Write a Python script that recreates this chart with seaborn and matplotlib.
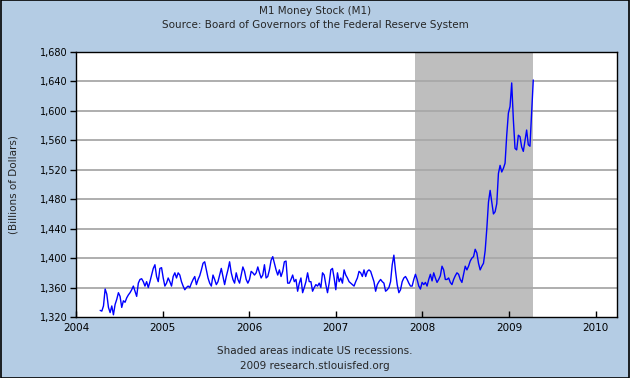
import numpy as np
import pandas as pd
import matplotlib
matplotlib.use('Agg')
import matplotlib.pyplot as plt
import matplotlib.ticker as mticker
import seaborn as sns

# weekly M1 (billions of dollars), starting mid April 2004
m1_2004_05 = [1329, 1328, 1335, 1358, 1351, 1333, 1326, 1335, 1323, 1337,
              1344, 1353, 1348, 1333, 1342, 1340, 1346, 1350, 1353, 1357,
              1362, 1355, 1348, 1366, 1371, 1372, 1368, 1362, 1368, 1360,
              1368, 1377, 1386, 1391, 1375, 1368, 1386, 1387, 1373, 1362,
              1366, 1373, 1368, 1362, 1375, 1380, 1373, 1380, 1377, 1368,
              1362, 1357, 1360, 1362, 1360, 1366, 1371, 1375, 1364, 1371,
              1376]
m1_2005_06 = [1384, 1393, 1395, 1384, 1373, 1366, 1362, 1377, 1371, 1364,
              1368, 1377, 1386, 1375, 1364, 1375, 1384, 1395, 1380, 1371,
              1366, 1380, 1371, 1366, 1377, 1388, 1382, 1371, 1366, 1371,
              1382, 1380, 1377, 1380, 1388, 1380, 1373, 1377, 1391, 1373,
              1375, 1384, 1397, 1402, 1393, 1384, 1377, 1384, 1375, 1382,
              1395, 1396, 1366, 1366, 1371, 1377, 1368, 1371, 1355, 1366,
              1373, 1353, 1360, 1368, 1380, 1368]
m1_2006_07 = [1368, 1355, 1360, 1364, 1362, 1366, 1360, 1380, 1377, 1364,
              1353, 1366, 1384, 1386, 1373, 1357, 1380, 1368, 1373, 1366,
              1384, 1377, 1373, 1368, 1366, 1364, 1362, 1368, 1373, 1382,
              1380, 1375, 1384, 1375, 1382, 1384, 1382, 1375, 1368, 1355,
              1364, 1368, 1371, 1368, 1366, 1355, 1357, 1360, 1368, 1391,
              1404, 1382, 1364, 1353, 1357, 1368, 1373, 1375, 1371, 1366,
              1362]
m1_2007_08 = [1362, 1371, 1378, 1371, 1362, 1358, 1367, 1364, 1367, 1362,
              1371, 1378, 1369, 1380, 1373, 1367, 1371, 1376, 1389, 1384,
              1371, 1371, 1373, 1367, 1364, 1371, 1376, 1380, 1378, 1371,
              1367, 1378, 1389, 1384, 1389, 1396, 1400, 1402, 1412, 1407,
              1393, 1384, 1389, 1393]
m1_2008_09 = [1410, 1440, 1476, 1492, 1476, 1460, 1463, 1474, 1515, 1526,
              1517, 1522, 1529, 1567, 1597, 1606, 1638, 1588, 1549, 1547,
              1567, 1565, 1551, 1545, 1560, 1574, 1554, 1552, 1597, 1642]

values = m1_2004_05 + m1_2005_06 + m1_2006_07 + m1_2007_08 + m1_2008_09
dates = pd.date_range('2004-04-12', periods=len(values), freq='7D')
df = pd.DataFrame({'date': dates, 'm1': values})

recession_start = '2007-12-01'
recession_end = '2009-04-10'

y_ticks = list(range(1320, 1681, 40))
x_years = list(range(2004, 2011))

bg = '#B4CCE4'

sns.set_theme(style='white')
plt.rcParams['font.family'] = ['DejaVu Sans']

fig = plt.figure(figsize=(6.3, 3.78), dpi=100, facecolor=bg)
ax = fig.add_axes([0.1206, 0.1614, 0.8587, 0.701])
ax.set_facecolor('white')

ax.axvspan(pd.Timestamp(recession_start), pd.Timestamp(recession_end),
           color='#BEBEBE', lw=0, zorder=0)
for v in y_ticks[1:]:
    ax.axhline(v, color='#A8A8A8', lw=1.3, zorder=1)

sns.lineplot(data=df, x='date', y='m1', ax=ax, color='#0000FF', lw=1.0, zorder=3)

ax.set_xlim(pd.Timestamp('2004-01-01'), pd.Timestamp('2010-04-01'))
ax.set_ylim(1320, 1680)
ax.set_yticks(y_ticks)
ax.yaxis.set_major_formatter(mticker.FuncFormatter(lambda v, p: f'{int(v):,}'))
ax.set_xticks([pd.Timestamp(f'{y}-01-01') for y in x_years])
ax.set_xticklabels([str(y) for y in x_years])

ax.tick_params(axis='y', direction='out', length=4, width=1, labelsize=7,
               colors='black', left=True, pad=2)
ax.tick_params(axis='x', direction='in', length=4, width=1, labelsize=7.5,
               colors='black', bottom=True, pad=4)
for s in ax.spines.values():
    s.set_color('black')
    s.set_linewidth(1)

ax.set_xlabel('')
ax.set_ylabel('(Billions of Dollars)', fontsize=7.5)
ax.yaxis.set_label_coords(-0.106, 0.5)

fig.text(0.5, 0.972, 'M1 Money Stock (M1)', ha='center', va='center', fontsize=7.5)
fig.text(0.5, 0.935, 'Source: Board of Governors of the Federal Reserve System',
         ha='center', va='center', fontsize=7.5)
fig.text(0.5, 0.072, 'Shaded areas indicate US recessions.', ha='center',
         va='center', fontsize=7.5)
fig.text(0.5, 0.032, '2009 research.stlouisfed.org', ha='center',
         va='center', fontsize=7.5)

fig.patches.append(plt.Rectangle((0.0008, 0.0013), 0.9984, 0.9974,
                                 transform=fig.transFigure, fill=False,
                                 edgecolor='black', lw=1.2))

fig.savefig('out.png', dpi=100, facecolor=bg)
